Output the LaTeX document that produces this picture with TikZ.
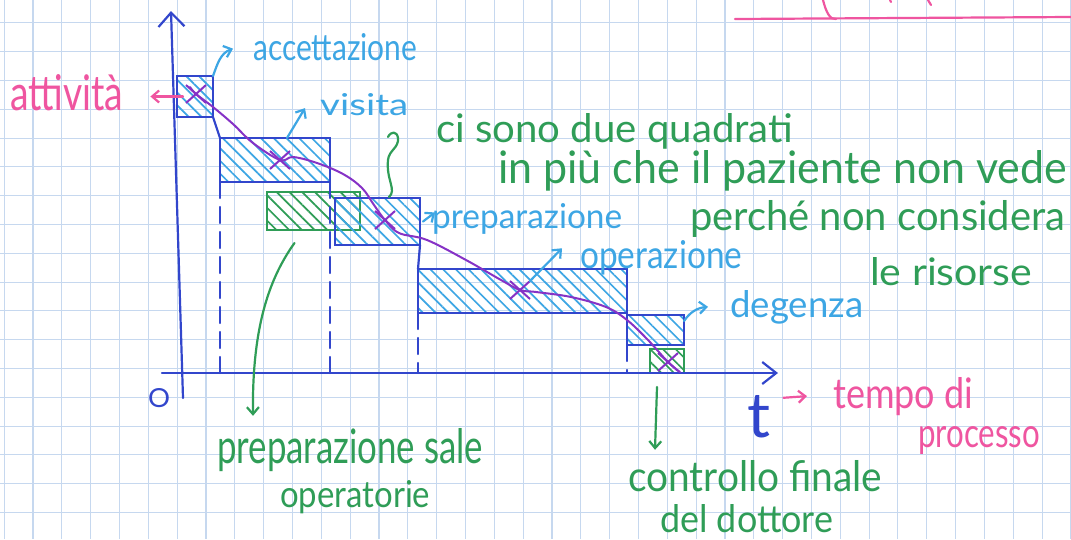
\documentclass[tikz,border=0pt]{standalone}
\usepackage{graphicx}
\usepackage{fontspec}
\setmainfont{Lato}
\usetikzlibrary{patterns.meta,shapes.misc,arrows.meta}
\definecolor{gridc}{HTML}{C6D8EF}
\definecolor{axb}{HTML}{3246CC}
\definecolor{hb}{HTML}{3DA6E4}
\definecolor{gr}{HTML}{2F9D57}
\definecolor{pk}{HTML}{EF55A0}
\definecolor{pu}{HTML}{8632C6}
\newcommand{\hw}[3]{\resizebox{#1pt}{#2pt}{#3}}
\begin{document}
\begin{tikzpicture}[x=1pt,y=-1pt,
  pen/.style={line width=2.2pt, line cap=round, line join=round},
  axis/.style={pen, draw=axb},
  bbox/.style={draw=axb, line width=2.2pt, inner sep=0pt, outer sep=0pt, anchor=north west,
    pattern={Lines[angle=-45,distance=9pt,line width=1.7pt]}, pattern color=hb},
  gbox/.style={bbox, draw=gr, pattern color=gr},
  dsh/.style={axis, dash pattern=on 16pt off 9pt},
  lb/.style={text=hb, inner sep=0pt, anchor=base west},
  gt/.style={lb, text=gr},
  pt/.style={lb, text=pk},
  bt/.style={lb, text=axb},
  xm/.style={cross out, draw=pu, line width=2pt, minimum width=18pt, minimum height=16pt, inner sep=0pt},
  barb/.style={-{Straight Barb[length=7pt,width=12pt]}},
]
\fill[white] (0,0) rectangle (1071,539);
\useasboundingbox (0,0) rectangle (1071,539);
% graph paper
\foreach \i in {0,...,37} \draw[gridc, line width=1.1pt] ({4.2+28.83*\i},0) -- ({4.2+28.83*\i},539);
\foreach \j in {0,...,18} \draw[gridc, line width=1.1pt] (0,{22.9+28.8*\j}) -- (1071,{22.9+28.8*\j});

% top pink underline
\draw[pk, pen] (735,19) -- (1071,17);
\draw[pk, pen] (823,0) .. controls (826,12) and (830,20) .. (836,19);
\draw[pk, pen] (890,0) -- (891,2);
\draw[pk, pen] (928,0) -- (931,5);

% axes
\coordinate (O) at (183,373);
\coordinate (ybot) at (183,398);
\coordinate (ytop) at (171,11);
\coordinate (xleft) at (162,373);
\coordinate (xright) at (778,373);

% boxes
\node[bbox, minimum width=36pt, minimum height=41pt] (acc) at (177,76) {};
\node[bbox, minimum width=110pt, minimum height=44pt] (vis) at (220,138) {};
\node[gbox, minimum width=93pt, minimum height=38pt] (gr1) at (267,192) {};
\node[bbox, minimum width=85pt, minimum height=47pt] (prep) at (335,198) {};
\node[bbox, minimum width=209pt, minimum height=44pt] (op) at (418,269) {};
\node[bbox, minimum width=57pt, minimum height=30pt] (deg) at (627,315) {};
\node[gbox, minimum width=34pt, minimum height=24pt] (gr2) at (650,349) {};

% step links and dashed drop lines
\draw[axis] (acc.south east) -- (vis.north west);
\draw[axis] (prep.south east) -- (op.north west);
\draw[dsh] (vis.south west) -- (vis.south west |- O);
\draw[dsh] (vis.south east) -- (vis.south east |- O);
\draw[dsh] (op.south west) -- (op.south west |- O);
\draw[dsh] (deg.south west) -- (deg.south west |- O);

\draw[axis, -{Straight Barb[length=14pt,width=26pt]}] (ybot) -- (ytop);
\draw[axis, -{Straight Barb[length=14pt,width=22pt]}] (xleft) -- (xright);

% crosses and process curve
\node[xm] (x1) at (196,94) {};
\node[xm] (x2) at (280,160) {};
\node[xm] (x3) at (385,220) {};
\node[xm] (x4) at (520,290) {};
\node[xm] (x5) at (668,362) {};
\draw[pu, line width=2pt, line cap=round] plot[smooth, tension=0.6] coordinates {(190,87) (x1.center) (213,107) (233,124) (253,143) (x2.center) (293,157) (317,163) (343,174) (362,188) (374,205) (x3.center) (399,233) (427,240) (466,260) (501,280) (x4.center) (536,292) (571,297) (606,307) (627,320) (648,340) (x5.center) (680,372)};

% labels
\node[pt] (att) at (10,110) {\hw{113}{36}{attività}};
\node[lb] (accl) at (253,60) {\hw{164}{27}{accettazione}};
\node[lb] (visl) at (320,115) {\hw{88}{22}{visita}};
\node[lb] (prepl) at (432,228) {\hw{190}{25}{preparazione}};
\node[lb] (opl) at (580,268) {\hw{162}{28}{operazione}};
\node[lb] (degl) at (730,317) {\hw{133}{27}{degenza}};
\node[gt] (ci1) at (436,142) {\hw{357}{29}{ci sono due quadrati}};
\node[gt] (ci2) at (498,183) {\hw{569}{33}{in più che il paziente non vede}};
\node[gt] (ci3) at (690,230) {\hw{375}{30}{perché non considera}};
\node[gt] (ci4) at (870,285) {\hw{162}{28}{le risorse}};
\node[gt] (psl1) at (217,463) {\hw{266}{35}{preparazione sale}};
\node[gt] (psl2) at (280,507) {\hw{150}{27}{operatorie}};
\node[gt] (cf1) at (628,491) {\hw{254}{31}{controllo finale}};
\node[gt] (cf2) at (660,532) {\hw{173}{28}{del dottore}};
\node[pt] (tp1) at (833,408) {\hw{140}{31}{tempo di}};
\node[pt] (tp2) at (918,447) {\hw{122}{21}{processo}};
\node[bt] (tl) at (747,437) {\hw{23}{42}{t}};
\node[bt] (ol) at (148,407) {\hw{22}{19}{O}};

% label arrows
\draw[pk, pen, barb, shorten >=27pt, shorten <=-6pt] (acc.west) -- (att.east |- acc.west);
\draw[hb, pen, barb] (acc.north east) to[out=70, in=-160] ([xshift=-20pt, yshift=-2pt]accl.west);
\draw[hb, pen, barb] ([xshift=67pt]vis.north west) -- ([xshift=-15pt, yshift=-4pt]visl.west);
\draw[hb, pen, barb] ([xshift=3pt]prep.east) -- ([xshift=3pt, yshift=6pt]prepl.west);
\draw[hb, pen, barb] (x4.north east) -- ([xshift=-18pt, yshift=9pt]opl.west);
\draw[hb, pen, barb] ([yshift=-6pt]deg.north east) to[bend left=25] ([xshift=-22pt]degl.west);
\draw[pk, pen, barb] ([xshift=13pt, yshift=-3pt]tl.north east) -- ([xshift=-26pt]tp1.west);

% green connectors
\coordinate (brA) at ([xshift=54pt, yshift=1pt]prep.north west);
\coordinate (brB) at ([xshift=-48pt, yshift=5pt]ci1.base west);
\draw[gr, pen] (brA) .. controls (397,190) and (386,180) .. (388,160) .. controls (389,150) and (399,148) .. (398,138) .. controls (397,131) and (391,131) .. (brB);
\draw[gr, pen, barb] ([xshift=-19pt, yshift=-13pt]gr1.south) .. controls (268,280) and (252,330) .. ([xshift=36pt, yshift=12pt]psl1.north west);
\draw[gr, pen, barb] ([xshift=7pt, yshift=-14pt]gr2.south west) -- ([xshift=27pt, yshift=10pt]cf1.north west);
\end{tikzpicture}
\end{document}
